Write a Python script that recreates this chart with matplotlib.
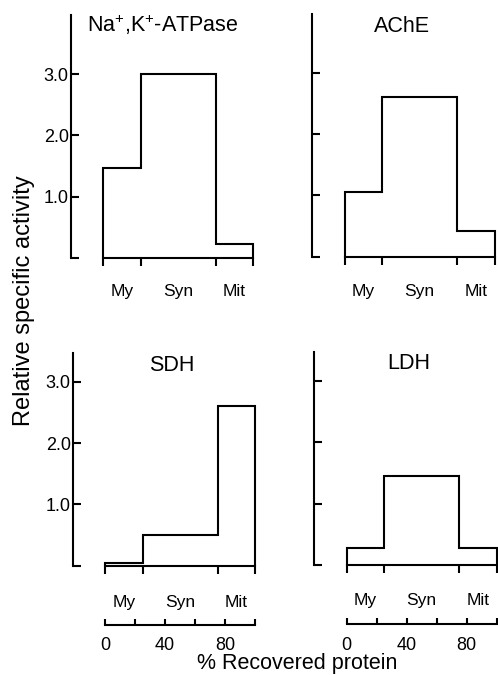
import matplotlib
matplotlib.use("Agg")
import matplotlib.pyplot as plt

# ── Data ──────────────────────────────────────────────────────────────────────
fractions = ["My", "Syn", "Mit"]
edges = [0, 25, 75, 100]          # % recovered protein boundaries
atpase = [1.47, 3.0, 0.23]
ache = [1.06, 2.61, 0.42]
sdh = [0.04, 0.50, 2.60]
ldh = [0.27, 1.46, 0.27]
yticks = [0, 1, 2, 3]
ytick_labels = ["", "1.0", "2.0", "3.0"]
scale_ticks = [0, 20, 40, 60, 80, 100]
scale_labels = ["0", "", "40", "", "80", ""]

# ── Layout (figure pixels, origin top-left) ───────────────────────────────────
W, H = 498, 675
PX_PER_PCT = 1.5
PX_PER_UNIT = 61.3
XMIN, XMAX = -21.5, 102

plt.rcParams["font.family"] = ["Liberation Sans", "DejaVu Sans"]
plt.rcParams["mathtext.fontset"] = "custom"
plt.rcParams["mathtext.rm"] = "Liberation Sans"

fig = plt.figure(figsize=(W / 100, H / 100), dpi=100)


def add_panel(values, x0, y0, ymax, title, tx, ty, left_labels, cat_pad):
    left = x0 + XMIN * PX_PER_PCT
    width = (XMAX - XMIN) * PX_PER_PCT
    height = ymax * PX_PER_UNIT
    ax = fig.add_axes([left / W, (H - y0) / H, width / W, height / H])
    ax.set_xlim(XMIN, XMAX)
    ax.set_ylim(0, ymax)
    ax.patch.set_alpha(0)

    ax.stairs(values, edges, baseline=0, fill=False, color="black",
              lw=1.5, clip_on=False)

    for s in ("top", "right"):
        ax.spines[s].set_visible(False)
    for s in ("left", "bottom"):
        ax.spines[s].set_linewidth(1.5)
    ax.spines["bottom"].set_bounds(0, 100)

    ax.set_yticks(yticks)
    ax.set_yticklabels(ytick_labels if left_labels else [""] * len(yticks))
    ax.tick_params(axis="y", direction="in", length=5.5, width=1.5,
                   pad=1.5, labelsize=13)

    ax.set_xticks(edges)
    ax.set_xticklabels([""] * len(edges))
    ax.tick_params(axis="x", which="major", direction="out", length=6,
                   width=1.5)
    centers = [(a + b) / 2 for a, b in zip(edges[:-1], edges[1:])]
    ax.set_xticks(centers, minor=True)
    ax.set_xticklabels(fractions, minor=True)
    ax.tick_params(axis="x", which="minor", length=0, pad=cat_pad,
                   labelsize=12.5)

    fig.text(tx / W, 1 - ty / H, title, ha="center", va="baseline",
             fontsize=15.5)
    return ax


def add_scale(x0, y_line):
    left = x0 + XMIN * PX_PER_PCT
    width = (XMAX - XMIN) * PX_PER_PCT
    ax = fig.add_axes([left / W, (H - y_line) / H, width / W, 10 / H])
    ax.set_xlim(XMIN, XMAX)
    ax.patch.set_alpha(0)
    for s in ("top", "right", "left"):
        ax.spines[s].set_visible(False)
    ax.spines["bottom"].set_linewidth(1.5)
    ax.spines["bottom"].set_bounds(0, 100)
    ax.set_yticks([])
    ax.set_xticks(scale_ticks)
    ax.set_xticklabels(scale_labels)
    ax.tick_params(axis="x", direction="in", length=4.5, width=1.5,
                   pad=9, labelsize=13)


add_panel(atpase, 103, 258, 3.96, r"Na$^{+}$,K$^{+}$-ATPase", 163, 32, True, 18.5)
add_panel(ache, 344.5, 256.7, 3.96, "AChE", 402, 32, False, 19.5)
add_panel(sdh, 105, 565.7, 3.47, "SDH", 172, 371, True, 21)
add_panel(ldh, 346.7, 565, 3.47, "LDH", 409, 369, False, 20)

add_scale(105, 625)
add_scale(346.7, 624)

fig.text(24 / W, 1 - 301 / H, "Relative specific activity", rotation=90,
         ha="center", va="center", fontsize=17)
fig.text(297 / W, 1 - 669.5 / H, "% Recovered protein", ha="center",
         va="baseline", fontsize=15.5)

fig.savefig("out.png", dpi=100, facecolor="white")
